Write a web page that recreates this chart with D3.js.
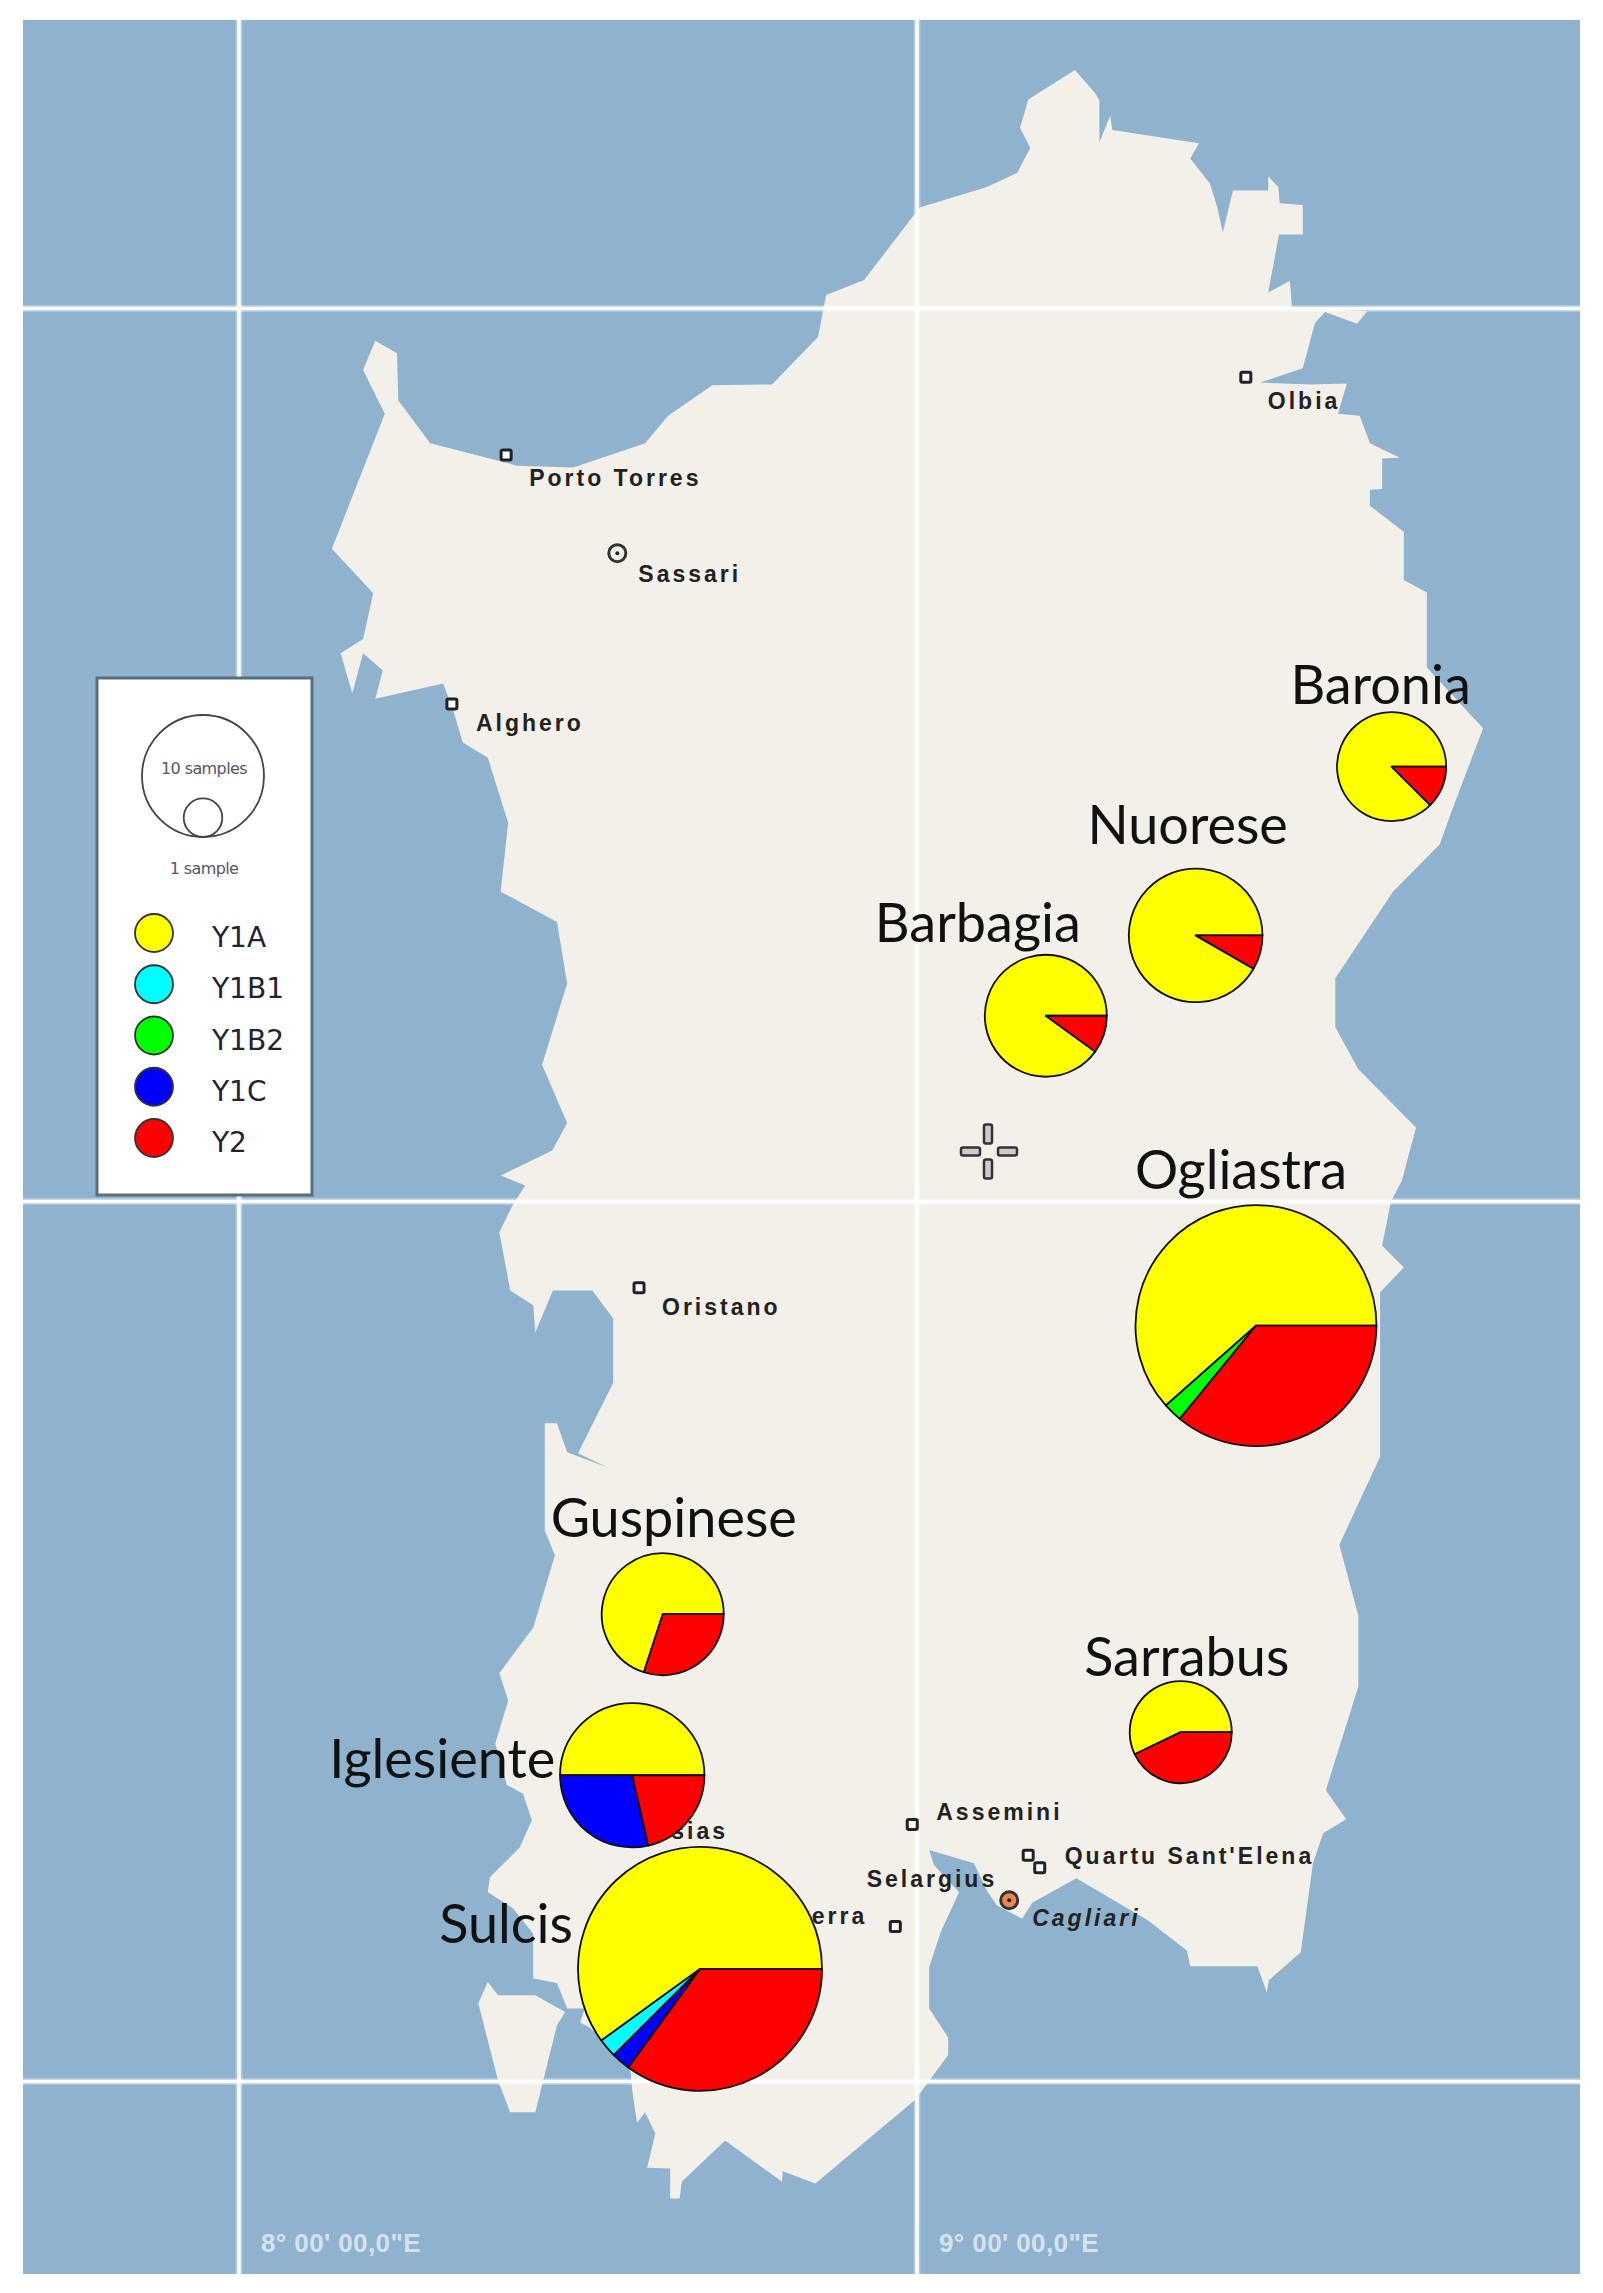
<!DOCTYPE html>
<html>
<head>
<meta charset="utf-8">
<script src="https://cdn.jsdelivr.net/npm/d3@7"></script>
<style>
  html, body { margin: 0; padding: 0; background: #fff; }
  svg { display: block; }
</style>
</head>
<body>
<div id="chart"></div>
<script>
// Data
//////////////////////////////////////////////////////////////////////
const haplogroups = ["Y1A", "Y1B1", "Y1B2", "Y1C", "Y2"];
const haploColors = ["#ffff00", "#00ffff", "#00ff00", "#0000ff", "#ff0000"];

const regions = ["Baronia", "Nuorese", "Barbagia", "Ogliastra", "Guspinese", "Sarrabus", "Iglesiente", "Sulcis"];
const regionLon = [9.700, 9.411, 9.190, 9.500, 8.625, 9.389, 8.580, 8.680];
const regionLat = [40.487, 40.298, 40.208, 39.859, 39.531, 39.397, 39.348, 39.128];
// samples per haplogroup, same order as haplogroups
const regionSamples = [
  [7, 0, 0, 0, 1],
  [11, 0, 0, 0, 1],
  [9, 0, 0, 0, 1],
  [24, 0, 1, 0, 14],
  [7, 0, 0, 0, 3],
  [4, 0, 0, 0, 3],
  [7, 0, 0, 4, 3],
  [24, 1, 0, 1, 14]
];

const towns = ["Olbia", "Porto Torres", "Sassari", "Alghero", "Oristano", "Iglesias", "Capoterra", "Assemini", "Selargius", "Quartu Sant'Elena", "Cagliari"];
const townLon = [9.485, 8.394, 8.558, 8.314, 8.590, 8.590, 8.968, 8.993, 9.164, 9.181, 9.136];
const townLat = [40.923, 40.836, 40.726, 40.557, 39.902, 39.320, 39.176, 39.292, 39.257, 39.243, 39.206];
const townKinds = ["town", "town", "city", "town", "town", "town", "town", "town", "town", "town", "capital"];

const lonTicks = [8, 9];
const latTicks = [41, 40, 39];
const lonLabels = ["8° 00' 00,0\"E", "9° 00' 00,0\"E"];

const coast = [
  [9.233,41.267],[9.263,41.241],[9.269,41.233],[9.269,41.186],[9.285,41.216],[9.288,41.200],[9.416,41.185],[9.403,41.168],
  [9.432,41.140],[9.443,41.113],[9.451,41.085],[9.466,41.132],[9.518,41.132],[9.518,41.148],[9.533,41.136],[9.535,41.118],
  [9.569,41.116],[9.569,41.083],[9.534,41.083],[9.518,41.018],[9.550,41.031],[9.553,41.001],[9.664,40.997],[9.649,40.983],
  [9.602,40.996],[9.587,40.984],[9.569,40.933],[9.506,40.917],[9.580,40.915],[9.634,40.916],[9.621,40.882],[9.653,40.880],
  [9.668,40.849],[9.712,40.833],[9.686,40.832],[9.686,40.798],[9.668,40.797],[9.668,40.779],[9.718,40.750],[9.718,40.696],
  [9.752,40.682],[9.752,40.598],[9.835,40.530],[9.791,40.442],[9.771,40.400],[9.702,40.347],[9.617,40.250],[9.617,40.195],
  [9.651,40.148],[9.736,40.083],[9.715,40.023],[9.699,40.000],[9.686,39.950],[9.718,39.925],[9.683,39.897],[9.683,39.710],
  [9.623,39.610],[9.651,39.529],[9.651,39.449],[9.603,39.331],[9.633,39.298],[9.599,39.282],[9.584,39.248],[9.566,39.147],
  [9.519,39.115],[9.516,39.101],[9.502,39.131],[9.403,39.131],[9.398,39.149],[9.341,39.183],[9.235,39.231],[9.170,39.203],
  [9.155,39.185],[9.118,39.200],[9.103,39.217],[9.084,39.248],[9.018,39.263],[9.025,39.246],[9.062,39.215],[9.035,39.170],
  [9.018,39.130],[9.018,39.083],[9.046,39.050],[9.046,39.030],[8.997,38.979],[8.850,38.884],[8.802,38.898],[8.801,38.886],
  [8.717,38.933],[8.653,38.886],[8.650,38.867],[8.636,38.867],[8.636,38.901],[8.602,38.902],[8.614,38.941],[8.599,38.965],
  [8.587,38.953],[8.580,38.990],[8.577,39.016],[8.518,39.061],[8.503,39.067],[8.510,39.083],[8.484,39.083],[8.469,39.112],
  [8.434,39.117],[8.434,39.168],[8.404,39.197],[8.367,39.215],[8.370,39.232],[8.414,39.266],[8.432,39.297],[8.419,39.327],
  [8.395,39.337],[8.378,39.384],[8.397,39.433],[8.384,39.464],[8.434,39.516],[8.466,39.598],[8.451,39.626],[8.451,39.748],
  [8.469,39.748],[8.484,39.715],[8.543,39.698],[8.500,39.714],[8.552,39.794],[8.552,39.867],[8.521,39.899],[8.463,39.899],
  [8.437,39.851],[8.434,39.882],[8.400,39.899],[8.384,39.965],[8.403,39.995],[8.422,40.018],[8.386,40.029],[8.462,40.057],
  [8.484,40.088],[8.447,40.153],[8.484,40.244],[8.469,40.313],[8.386,40.347],[8.397,40.424],[8.367,40.497],[8.330,40.514],
  [8.316,40.550],[8.301,40.580],[8.201,40.563],[8.212,40.595],[8.183,40.614],[8.167,40.569],[8.150,40.614],[8.183,40.630],
  [8.198,40.681],[8.137,40.731],[8.215,40.882],[8.183,40.931],[8.201,40.964],[8.233,40.950],[8.235,40.897],[8.282,40.849],
  [8.410,40.824],[8.493,40.822],[8.599,40.849],[8.633,40.880],[8.698,40.914],[8.786,40.915],[8.854,40.968],[8.866,41.015],
  [8.922,41.032],[9.004,41.113],[9.103,41.136],[9.148,41.152],[9.167,41.180],[9.152,41.202],[9.164,41.234]
];
const santAntioco = [
  [8.367,39.113],[8.353,39.089],[8.382,39.001],[8.400,38.965],[8.437,38.965],[8.469,39.064],[8.481,39.079],[8.437,39.098],[8.382,39.098]
];

// Layout
//////////////////////////////////////////////////////////////////////
var width = 1603;
var height = 2293;
var frame = { left: 23, right: 1580, top: 20, bottom: 2274 };
var ocean = "#8fb3cf";
var land = "#f3efe9";
var labelFont = "Lato, 'Noto Sans', sans-serif";
var townFont = "'Liberation Sans', Arial, sans-serif";

var x = d3.scaleLinear().domain([8, 9]).range([239, 917]);
var y = d3.scaleLinear().domain([41, 40, 39]).range([308.5, 1201.5, 2081.5]);
var radius = d3.scaleSqrt().domain([0, 10]).range([0, 61]);
var color = d3.scaleOrdinal().domain(haplogroups).range(haploColors);

var landPath = d3.line().x(d => x(d[0])).y(d => y(d[1])).curve(d3.curveLinearClosed);
var pie = d3.pie().sort(null).startAngle(Math.PI / 2).endAngle(Math.PI / 2 - 2 * Math.PI);
var arc = d3.arc().innerRadius(0);

// label nudges, px from the pie centre
var regionLabelOffset = [[-11, -82], [-8, -111], [-68, -93], [-15, -156], [11, -97], [6, -76], [-190, -17], [-194, -45]];
// label nudges, px from the town marker: [dx, dy, anchor, style]
var townLabelOffset = [
  [22, 23, "start", "normal"], [23, 23, "start", "normal"], [21, 21, "start", "normal"], [24, 19, "start", "normal"],
  [23, 19, "start", "normal"], [89, 31, "end", "normal"], [-28, -11, "end", "normal"], [24, -13, "start", "normal"],
  [-31, 23, "end", "normal"], [25, -12, "start", "normal"], [23, 18, "start", "italic"]
];

var svg = d3.select("#chart").append("svg")
  .attr("width", width)
  .attr("height", height)
  .attr("viewBox", [0, 0, width, height]);

// Sea, land
//////////////////////////////////////////////////////////////////////
svg.append("rect")
  .attr("x", frame.left).attr("y", frame.top)
  .attr("width", frame.right - frame.left).attr("height", frame.bottom - frame.top)
  .attr("fill", ocean);

svg.append("g").selectAll("path")
  .data([coast, santAntioco])
  .join("path")
  .attr("d", landPath)
  .attr("fill", land);

// Graticule
//////////////////////////////////////////////////////////////////////
var grid = svg.append("g").attr("stroke", "#fff");
[[7, 0.3], [3.5, 1]].forEach(function (pass) {
  grid.append("g").attr("stroke-width", pass[0]).attr("stroke-opacity", pass[1])
    .selectAll("line")
    .data(lonTicks)
    .join("line")
    .attr("x1", d => x(d)).attr("x2", d => x(d))
    .attr("y1", frame.top).attr("y2", frame.bottom);
  grid.append("g").attr("stroke-width", pass[0]).attr("stroke-opacity", pass[1])
    .selectAll("line")
    .data(latTicks)
    .join("line")
    .attr("x1", frame.left).attr("x2", frame.right)
    .attr("y1", d => y(d)).attr("y2", d => y(d));
});

svg.append("g").selectAll("text")
  .data(lonTicks)
  .join("text")
  .attr("x", d => x(d) + 22)
  .attr("y", 2252)
  .attr("font-family", townFont)
  .attr("font-weight", "bold")
  .attr("font-size", 26)
  .attr("letter-spacing", 0.4)
  .attr("fill", "#fff")
  .attr("fill-opacity", 0.65)
  .text((d, i) => lonLabels[i]);

// Map centre cross
//////////////////////////////////////////////////////////////////////
var crossX = x(9) + 71;
var crossY = y(40) - 50;
svg.append("g")
  .attr("fill", "#ccc").attr("stroke", "#333").attr("stroke-width", 2.5)
  .selectAll("rect")
  .data([[-4, -27, 8, 19], [-4, 8, 8, 19], [-27, -4, 19, 8], [10, -4, 19, 8]])
  .join("rect")
  .attr("x", d => crossX + d[0]).attr("y", d => crossY + d[1])
  .attr("width", d => d[2]).attr("height", d => d[3])
  .attr("rx", 2);

// Towns
//////////////////////////////////////////////////////////////////////
var town = svg.append("g").selectAll("g")
  .data(towns)
  .join("g")
  .attr("transform", (d, i) => `translate(${x(townLon[i])},${y(townLat[i])})`);

town.filter((d, i) => townKinds[i] == "town").append("rect")
  .attr("x", -5).attr("y", -5).attr("width", 10).attr("height", 10).attr("rx", 1.5)
  .attr("fill", "#fff").attr("stroke", "#222").attr("stroke-width", 3);

town.filter((d, i) => townKinds[i] != "town").append("circle")
  .attr("r", 8.5)
  .attr("fill", d => d == "Cagliari" ? "#e9854d" : "#f3efe9")
  .attr("stroke", "#333").attr("stroke-width", 3);
town.filter((d, i) => townKinds[i] != "town").append("circle")
  .attr("r", 2).attr("fill", "#222");

town.append("text")
  .attr("x", (d, i) => townLabelOffset[i][0])
  .attr("y", (d, i) => townLabelOffset[i][1])
  .attr("dy", "0.36em")
  .attr("text-anchor", (d, i) => townLabelOffset[i][2])
  .attr("font-style", (d, i) => townLabelOffset[i][3])
  .attr("font-family", townFont)
  .attr("font-weight", "bold")
  .attr("font-size", 23)
  .attr("letter-spacing", 3)
  .attr("fill", "#222")
  .text(d => d);

// Pies
//////////////////////////////////////////////////////////////////////
regions.forEach(function (name, i) {
  var total = d3.sum(regionSamples[i]);
  var r = radius(total);
  var g = svg.append("g")
    .attr("transform", `translate(${x(regionLon[i])},${y(regionLat[i])})`);

  g.selectAll("path")
    .data(pie(regionSamples[i]).map((s, k) => Object.assign(s, { group: haplogroups[k] })).filter(s => s.value > 0))
    .join("path")
    .attr("d", s => arc.outerRadius(r)(s))
    .attr("fill", s => color(s.group))
    .attr("stroke", "#111")
    .attr("stroke-width", 1.8)
    .attr("stroke-linejoin", "round");

  svg.append("text")
    .attr("x", x(regionLon[i]) + regionLabelOffset[i][0])
    .attr("y", y(regionLat[i]) + regionLabelOffset[i][1])
    .attr("dy", "0.36em")
    .attr("text-anchor", "middle")
    .attr("font-family", labelFont)
    .attr("font-size", 54)
    .attr("fill", "#111")
    .text(name);
});

// Legend
//////////////////////////////////////////////////////////////////////
var legend = svg.append("g");
legend.append("rect")
  .attr("x", 97).attr("y", 678).attr("width", 215).attr("height", 517)
  .attr("fill", "#fff").attr("stroke", "#5a6e7d").attr("stroke-width", 3);

legend.selectAll("circle.size")
  .data([10, 1])
  .join("circle")
  .attr("class", "size")
  .attr("cx", 203)
  .attr("cy", d => 837 - radius(d))
  .attr("r", d => radius(d))
  .attr("fill", "none").attr("stroke", "#444").attr("stroke-width", 1.8);

legend.selectAll("text.size")
  .data([[768, "10 samples"], [868, "1 sample"]])
  .join("text")
  .attr("class", "size")
  .attr("x", 204).attr("y", d => d[0])
  .attr("dy", "0.36em")
  .attr("text-anchor", "middle")
  .attr("font-family", "'DejaVu Sans', sans-serif")
  .attr("font-size", 16)
  .attr("letter-spacing", -0.6)
  .attr("fill", "#556")
  .text(d => d[1]);

var legendY = d3.scalePoint().domain(haplogroups).range([933, 1138]);
var item = legend.selectAll("g.item")
  .data(haplogroups)
  .join("g")
  .attr("class", "item")
  .attr("transform", d => `translate(0,${legendY(d)})`);
item.append("circle")
  .attr("cx", 154).attr("r", 19)
  .attr("fill", d => color(d))
  .attr("stroke", "#333").attr("stroke-width", 1.8);
item.append("text")
  .attr("x", 212).attr("y", 4)
  .attr("dy", "0.36em")
  .attr("font-family", "'DejaVu Sans', sans-serif")
  .attr("font-size", 28)
  .attr("fill", "#223")
  .text(d => d);
</script>
</body>
</html>
